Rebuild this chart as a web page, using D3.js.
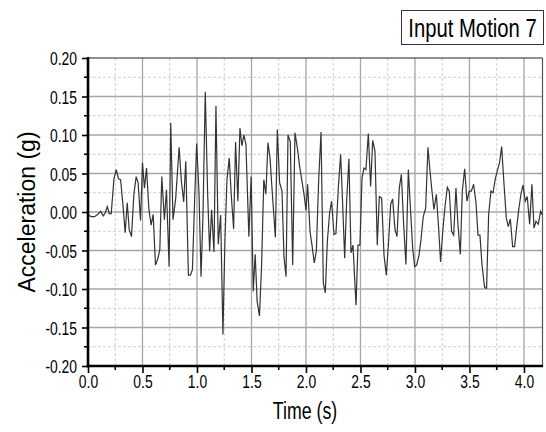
<!DOCTYPE html>
<html>
<head>
<meta charset="utf-8">
<script src="https://cdn.jsdelivr.net/npm/d3@7"></script>
<style>
  body { margin: 0; background: #fff; }
  svg { display: block; }
  .tick-label { font-family: "Liberation Sans", Arial, sans-serif; font-size: 19px; fill: #000; }
</style>
</head>
<body>
<div id="chart"></div>
<script>
// time (s) and acceleration (g)
var timeSec = [
  0, 0.03, 0.06, 0.09, 0.116, 0.14, 0.159, 0.177, 0.195, 0.213, 0.238, 0.259, 0.28, 0.299, 0.32, 0.341, 0.36, 0.378, 0.399, 0.421,
  0.442, 0.46, 0.482, 0.5, 0.518, 0.537, 0.558, 0.579, 0.598, 0.619, 0.64, 0.659, 0.677, 0.701, 0.72, 0.744, 0.759, 0.78,
  0.805, 0.836, 0.857, 0.878, 0.897, 0.921, 0.939, 0.958, 0.979, 0.997, 1.019, 1.037, 1.055, 1.076, 1.098, 1.116, 1.134, 1.156,
  1.174, 1.195, 1.217, 1.238, 1.256, 1.275, 1.296, 1.314, 1.336, 1.354, 1.375, 1.394, 1.412, 1.43, 1.449, 1.476, 1.497, 1.516,
  1.534, 1.552, 1.573, 1.592, 1.613, 1.632,
  1.651, 1.67, 1.688, 1.719, 1.737, 1.758, 1.78, 1.798, 1.817, 1.835, 1.856, 1.878, 1.899, 1.921, 1.942, 1.963, 1.982, 2.0,
  2.015, 2.037, 2.055, 2.076, 2.095, 2.116, 2.138, 2.159, 2.177, 2.196, 2.217, 2.235, 2.257, 2.275, 2.297, 2.318, 2.336, 2.355,
  2.373, 2.394, 2.413, 2.431, 2.459, 2.477,
  2.495, 2.514, 2.532, 2.55, 2.572, 2.593, 2.612, 2.633, 2.654, 2.673, 2.694, 2.716, 2.737, 2.758, 2.777, 2.795, 2.817, 2.835,
  2.856, 2.875, 2.896, 2.917, 2.939, 2.96, 2.979, 2.997, 3.015, 3.037, 3.055, 3.076, 3.098, 3.119, 3.138, 3.156, 3.174, 3.196,
  3.217, 3.235, 3.257, 3.278, 3.297, 3.315, 3.336, 3.355,
  3.376, 3.394, 3.416, 3.434, 3.456, 3.477, 3.498, 3.517, 3.538, 3.56, 3.578, 3.596, 3.615, 3.639, 3.657, 3.676, 3.697, 3.716,
  3.737, 3.758, 3.776, 3.795, 3.817, 3.838, 3.856, 3.875, 3.896, 3.914, 3.936, 3.954, 3.972, 3.991, 4.012, 4.03, 4.052, 4.073,
  4.092, 4.11, 4.131, 4.153, 4.168
];
var accelG = [
  -0.004, -0.006, -0.006, -0.003, 0.001, -0.005, -0.001, 0.007, -0.002, -0.002, 0.043, 0.055, 0.043, 0.042, 0.01, -0.027, 0.012, -0.023, -0.032, 0.023,
  0.046, 0.038, -0.011, 0.064, 0.031, 0.057, 0.005, -0.017, -0.003, -0.069, -0.061, -0.049, 0.046, -0.01, 0.029, -0.071, 0.116, -0.01,
  0.018, 0.084, 0.04, 0.013, 0.066, -0.082, -0.082, -0.075, 0.018, 0.089, 0.022, -0.084, -0.003, 0.156, 0.022, -0.051, 0.003, -0.052,
  0.138, -0.042, -0.004, -0.159, -0.038, 0.042, 0.07, 0.023, -0.022, 0.091, 0.014, 0.109, 0.086, 0.1, 0.088, -0.032, 0.046, -0.103,
  -0.055, -0.116, -0.135, -0.073, 0.042, 0.023,
  0.09, 0.07, 0.031, -0.033, 0.107, 0.038, 0.027, -0.058, -0.084, 0.1, 0.091, -0.069, 0.103, 0.083, 0.059, 0.04, 0.023, 0.002,
  0.036, -0.025, -0.043, -0.066, -0.051, 0.04, 0.104, -0.092, -0.105, -0.038, -0.001, 0.014, -0.029, -0.028, 0.032, 0.075, 0.012, -0.06,
  0.014, 0.069, -0.053, -0.043, -0.121, -0.043,
  -0.043, 0.044, 0.057, 0.055, 0.102, 0.033, 0.093, 0.079, -0.043, 0.02, 0.018, -0.056, -0.082, -0.038, 0.01, 0.017, -0.023, -0.032,
  0.031, 0.049, -0.016, -0.068, 0.055, 0.001, -0.047, -0.071, -0.069, -0.056, -0.036, -0.006, 0.005, 0.084, 0.053, 0.027, 0.003, 0.023,
  -0.021, -0.065, -0.021, 0.01, 0.032, 0.027, -0.025, -0.03,
  0.031, -0.016, -0.055, 0.027, 0.056, 0.014, 0.027, 0.027, 0.036, 0.012, -0.03, -0.03, -0.069, -0.098, -0.099, -0.003, 0.027, 0.025,
  0.043, 0.055, 0.064, 0.085, 0.036, -0.008, -0.019, -0.009, -0.045, -0.045, -0.016, 0.005, 0.023, 0.035, 0.014, 0.02, -0.016, 0.036,
  -0.021, -0.012, -0.016, 0.001, -0.004
];
var xTicks = [0, 0.5, 1.0, 1.5, 2.0, 2.5, 3.0, 3.5, 4.0];
var xMinor = [0.25, 0.75, 1.25, 1.75, 2.25, 2.75, 3.25, 3.75];
var yTicks = [-0.20, -0.15, -0.10, -0.05, 0.00, 0.05, 0.10, 0.15, 0.20];
var yMinor = [-0.175, -0.125, -0.075, -0.025, 0.025, 0.075, 0.125, 0.175];
var legendLabel = "Input Motion 7";

var width = 546, height = 432;
var margin = { top: 58, right: 3.5, bottom: 66, left: 88 };

// squeeze text horizontally so it looks like a narrow face
function narrow(sel, ratio) {
    sel.each(function () {
        var w = this.getComputedTextLength();
        d3.select(this).attr("textLength", w * ratio).attr("lengthAdjust", "spacingAndGlyphs");
    });
}

var svg = d3.select("#chart").append("svg")
    .attr("width", width)
    .attr("height", height);

var x = d3.scaleLinear().domain([0, 4.17]).range([margin.left, width - margin.right]);
var y = d3.scaleLinear().domain([-0.2, 0.2]).range([height - margin.bottom, margin.top]);

var x0 = x.range()[0], x1 = x.range()[1], y0 = y.range()[0], y1 = y.range()[1];

// minor grid (dashed)
svg.append("g").selectAll("line.vminor")
    .data(xMinor).enter().append("line")
    .attr("x1", d => x(d)).attr("x2", d => x(d))
    .attr("y1", y1).attr("y2", y0)
    .style("stroke", "#cfcfcf").style("stroke-width", 1).style("stroke-dasharray", "3,2");
svg.append("g").selectAll("line.hminor")
    .data(yMinor).enter().append("line")
    .attr("x1", x0).attr("x2", x1)
    .attr("y1", d => y(d)).attr("y2", d => y(d))
    .style("stroke", "#cfcfcf").style("stroke-width", 1).style("stroke-dasharray", "3,2");

// major grid
svg.append("g").selectAll("line.vmajor")
    .data(xTicks.slice(1)).enter().append("line")
    .attr("x1", d => x(d)).attr("x2", d => x(d))
    .attr("y1", y1).attr("y2", y0)
    .style("stroke", "#a6a6a6").style("stroke-width", 1.3);
svg.append("g").selectAll("line.hmajor")
    .data(yTicks.slice(1, -1)).enter().append("line")
    .attr("x1", x0).attr("x2", x1)
    .attr("y1", d => y(d)).attr("y2", d => y(d))
    .style("stroke", "#a6a6a6").style("stroke-width", 1.5);

// the record
var data = timeSec.map((t, i) => ({ t: t, a: accelG[i] }));
var line = d3.line().x(d => x(d.t)).y(d => y(d.a));
svg.append("path")
    .datum(data)
    .attr("d", line)
    .style("fill", "none")
    .style("stroke", "#333")
    .style("stroke-width", 1.2)
    .style("stroke-linejoin", "miter");

// frame top / right
svg.append("line").attr("x1", x0).attr("x2", x1).attr("y1", y1).attr("y2", y1)
    .style("stroke", "#222").style("stroke-width", 1.2);
svg.append("line").attr("x1", x1).attr("x2", x1).attr("y1", y1).attr("y2", y0)
    .style("stroke", "#555").style("stroke-width", 1.2);

// axes
var xAxis = d3.axisBottom(x).tickValues(xTicks).tickFormat(d3.format(".1f")).tickSize(7).tickSizeOuter(0);
var gx = svg.append("g").attr("transform", "translate(0," + y0 + ")").call(xAxis);
gx.select(".domain").remove();
gx.selectAll(".tick line").style("stroke", "#000").style("stroke-width", 1.6);
gx.selectAll(".tick text").attr("class", "tick-label").attr("y", 9).attr("dy", "0.71em");
gx.selectAll(".minor").data(xMinor).enter().append("line")
    .attr("x1", d => x(d)).attr("x2", d => x(d)).attr("y1", 0).attr("y2", 4)
    .style("stroke", "#000").style("stroke-width", 1.6);

var yAxis = d3.axisLeft(y).tickValues(yTicks).tickFormat(d3.format(".2f")).tickSize(6).tickSizeOuter(0);
var gy = svg.append("g").attr("transform", "translate(" + x0 + ",0)").call(yAxis);
gy.select(".domain").remove();
gy.selectAll(".tick line").style("stroke", "#000").style("stroke-width", 1.6);
gy.selectAll(".tick text").attr("class", "tick-label").attr("x", -11).attr("dy", "0.35em")
    .text(d => d3.format(".2f")(d).replace("−", "-"));
gy.selectAll(".minor").data(yMinor).enter().append("line")
    .attr("x1", -4).attr("x2", 0).attr("y1", d => y(d)).attr("y2", d => y(d))
    .style("stroke", "#000").style("stroke-width", 1.6);

narrow(svg.selectAll(".tick-label"), 0.73);

// thick axis lines
svg.append("line").attr("x1", x0).attr("x2", x0).attr("y1", y1 - 1).attr("y2", y0 + 1.3)
    .style("stroke", "#000").style("stroke-width", 2.6);
svg.append("line").attr("x1", x0 - 1.3).attr("x2", x1 + 0.6).attr("y1", y0).attr("y2", y0)
    .style("stroke", "#000").style("stroke-width", 2.6);

// axis titles
svg.append("text")
    .attr("transform", "translate(305,419) scale(0.74,1)")
    .attr("text-anchor", "middle")
    .style("font-family", "'Liberation Sans', Arial, sans-serif")
    .style("font-size", "24px")
    .text("Time (s)");

svg.append("text")
    .attr("transform", "translate(35," + ((y0 + y1) / 2) + ") rotate(-90)")
    .attr("text-anchor", "middle")
    .style("font-family", "'Liberation Sans', Arial, sans-serif")
    .style("font-size", "23px")
    .text("Acceleration (g)");

// legend box
var legend = svg.append("g");
legend.append("rect")
    .attr("x", 401.5).attr("y", 10.5).attr("width", 142).attr("height", 34)
    .style("fill", "#fff").style("stroke", "#333").style("stroke-width", 1);
legend.append("text")
    .attr("transform", "translate(472.5,37) scale(0.78,1)")
    .attr("text-anchor", "middle")
    .style("font-family", "'Liberation Sans', Arial, sans-serif")
    .style("font-size", "26px")
    .text(legendLabel);
</script>
</body>
</html>
